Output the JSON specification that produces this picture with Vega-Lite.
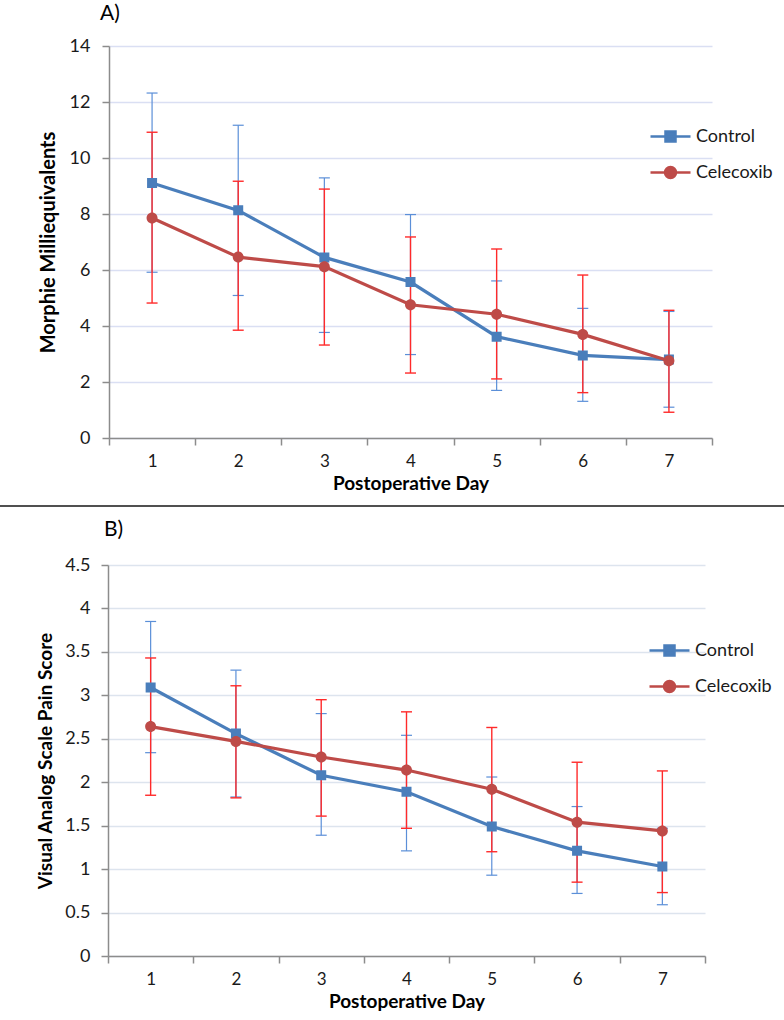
{
  "$schema": "https://vega.github.io/schema/vega-lite/v6.json",
  "padding": {"left": 0, "top": 3, "right": 0, "bottom": 0},
  "autosize": {"type": "pad"},
  "spacing": 12,
  "config": {
    "font": "Lato",
    "view": {"stroke": null},
    "axis": {
      "labelFont": "Lato", "labelFontSize": 18, "labelColor": "#1a1a1a",
      "titleFont": "Lato", "titleFontSize": 19, "titleFontWeight": "bold", "titleColor": "#000000",
      "domainColor": "#8c8c8c", "domainWidth": 1.5, "tickColor": "#8c8c8c", "tickWidth": 1.5, "tickSize": 7
    },
    "concat": {"spacing": 0}
  },
  "datasets": {
    "a": [
      {"day": 1, "group": "Control", "mean": 9.11, "lo": 5.92, "hi": 12.32},
      {"day": 2, "group": "Control", "mean": 8.13, "lo": 5.09, "hi": 11.17},
      {"day": 3, "group": "Control", "mean": 6.45, "lo": 3.77, "hi": 9.29},
      {"day": 4, "group": "Control", "mean": 5.57, "lo": 2.98, "hi": 7.98},
      {"day": 5, "group": "Control", "mean": 3.62, "lo": 1.70, "hi": 5.61},
      {"day": 6, "group": "Control", "mean": 2.95, "lo": 1.31, "hi": 4.63},
      {"day": 7, "group": "Control", "mean": 2.80, "lo": 1.10, "hi": 4.52},
      {"day": 1, "group": "Celecoxib", "mean": 7.86, "lo": 4.82, "hi": 10.92},
      {"day": 2, "group": "Celecoxib", "mean": 6.46, "lo": 3.85, "hi": 9.17},
      {"day": 3, "group": "Celecoxib", "mean": 6.12, "lo": 3.32, "hi": 8.89},
      {"day": 4, "group": "Celecoxib", "mean": 4.76, "lo": 2.32, "hi": 7.18},
      {"day": 5, "group": "Celecoxib", "mean": 4.42, "lo": 2.11, "hi": 6.75},
      {"day": 6, "group": "Celecoxib", "mean": 3.70, "lo": 1.62, "hi": 5.82},
      {"day": 7, "group": "Celecoxib", "mean": 2.76, "lo": 0.92, "hi": 4.56}
    ],
    "b": [
      {"day": 1, "group": "Control", "mean": 3.09, "lo": 2.34, "hi": 3.85},
      {"day": 2, "group": "Control", "mean": 2.56, "lo": 1.83, "hi": 3.29},
      {"day": 3, "group": "Control", "mean": 2.08, "lo": 1.39, "hi": 2.79},
      {"day": 4, "group": "Control", "mean": 1.89, "lo": 1.21, "hi": 2.54},
      {"day": 5, "group": "Control", "mean": 1.49, "lo": 0.93, "hi": 2.06},
      {"day": 6, "group": "Control", "mean": 1.21, "lo": 0.72, "hi": 1.72},
      {"day": 7, "group": "Control", "mean": 1.03, "lo": 0.59, "hi": 1.47},
      {"day": 1, "group": "Celecoxib", "mean": 2.64, "lo": 1.85, "hi": 3.43},
      {"day": 2, "group": "Celecoxib", "mean": 2.47, "lo": 1.82, "hi": 3.11},
      {"day": 3, "group": "Celecoxib", "mean": 2.29, "lo": 1.61, "hi": 2.95},
      {"day": 4, "group": "Celecoxib", "mean": 2.14, "lo": 1.47, "hi": 2.81},
      {"day": 5, "group": "Celecoxib", "mean": 1.92, "lo": 1.20, "hi": 2.63},
      {"day": 6, "group": "Celecoxib", "mean": 1.54, "lo": 0.85, "hi": 2.23},
      {"day": 7, "group": "Celecoxib", "mean": 1.44, "lo": 0.73, "hi": 2.13}
    ]
  },
  "resolve": {"scale": {"color": "independent", "shape": "independent", "stroke": "independent"}, "legend": {"color": "independent", "shape": "independent", "stroke": "independent"}},
  "vconcat": [
    {
      "resolve": {"scale": {"color": "independent", "shape": "independent", "stroke": "independent"}, "legend": {"color": "independent", "shape": "independent", "stroke": "independent"}},
      "hconcat": [
        {"width": 38, "height": 1, "data": {"values": []}, "mark": "rule", "encoding": {}},
        {
          "width": 603, "height": 392,
          "title": {"text": "A)", "anchor": "start", "frame": "group", "fontSize": 21, "fontWeight": "normal", "font": "Lato", "color": "#000000", "dx": -9, "offset": 13},
          "data": {"name": "a"},
          "encoding": {
            "x": {"field": "day", "type": "quantitative", "title": "Postoperative Day",
              "scale": {"domain": [0.5, 7.5], "nice": false, "zero": false},
              "axis": {"values": [0.5, 1, 1.5, 2, 2.5, 3, 3.5, 4, 4.5, 5, 5.5, 6, 6.5, 7, 7.5], "grid": false,
                "labelExpr": "datum.value % 1 === 0 ? format(datum.value, 'd') : ''",
                "tickOpacity": {"condition": {"test": "datum.value % 1 === 0", "value": 0}, "value": 1},
                "labelFontSize": 17, "labelPadding": 8, "titlePadding": 5, "labelFlush": false}}
          },
          "layer": [
            {"transform": [{"filter": "datum.group === 'Control'"}], "mark": {"type": "rule", "color": "#5b8fd8", "strokeWidth": 1.2},
             "encoding": {"y": {"field": "lo", "type": "quantitative", "title": "Morphie Milliequivalents",
                "scale": {"domain": [0, 14], "nice": false},
                "axis": {"values": [0, 2, 4, 6, 8, 10, 12, 14], "gridColor": "#dadff3", "gridWidth": 1.5, "labelPadding": 12, "titlePadding": 11, "titleFontSize": 20}},
               "y2": {"field": "hi"}}},
            {"transform": [{"filter": "datum.group === 'Control'"}], "mark": {"type": "tick", "orient": "horizontal", "color": "#5b8fd8", "size": 11, "thickness": 1.2, "opacity": 1},
             "encoding": {"y": {"field": "lo", "type": "quantitative"}}},
            {"transform": [{"filter": "datum.group === 'Control'"}], "mark": {"type": "tick", "orient": "horizontal", "color": "#5b8fd8", "size": 11, "thickness": 1.2, "opacity": 1},
             "encoding": {"y": {"field": "hi", "type": "quantitative"}}},
            {"transform": [{"filter": "datum.group === 'Celecoxib'"}], "mark": {"type": "rule", "color": "#ff2a2a", "strokeWidth": 1.4},
             "encoding": {"y": {"field": "lo", "type": "quantitative"}, "y2": {"field": "hi"}}},
            {"transform": [{"filter": "datum.group === 'Celecoxib'"}], "mark": {"type": "tick", "orient": "horizontal", "color": "#ff2a2a", "size": 11, "thickness": 1.4, "opacity": 1},
             "encoding": {"y": {"field": "lo", "type": "quantitative"}}},
            {"transform": [{"filter": "datum.group === 'Celecoxib'"}], "mark": {"type": "tick", "orient": "horizontal", "color": "#ff2a2a", "size": 11, "thickness": 1.4, "opacity": 1},
             "encoding": {"y": {"field": "hi", "type": "quantitative"}}},
            {"mark": {"type": "line", "strokeWidth": 3.2},
             "encoding": {"y": {"field": "mean", "type": "quantitative"},
               "color": {"field": "group", "type": "nominal", "scale": {"domain": ["Control", "Celecoxib"], "range": ["#4a7ebb", "#be4b48"]},
                 "legend": {"title": null, "orient": "none", "legendX": 550, "legendY": 79, "padding": 0, "symbolSize": 400, "labelOffset": 14, "rowPadding": 14,
                   "labelFont": "Lato", "labelFontSize": 18, "labelColor": "#1a1a1a", "symbolOpacity": 1, "symbolStrokeWidth": 2.5,
                   "encode": {"symbols": {"update": {"stroke": {"signal": "datum.value === 'Control' ? '#4a7ebb' : '#be4b48'"}, "strokeWidth": {"value": 2.5}}}}}}}},
            {"mark": {"type": "point", "filled": true, "opacity": 1, "size": 400},
             "encoding": {"y": {"field": "mean", "type": "quantitative"},
               "color": {"field": "group", "type": "nominal", "scale": {"domain": ["Control", "Celecoxib"], "range": ["#4a7ebb", "#be4b48"]},
                 "legend": {"title": null, "orient": "none", "legendX": 550, "legendY": 79, "padding": 0, "symbolSize": 400, "labelOffset": 14, "rowPadding": 14,
                   "labelFont": "Lato", "labelFontSize": 18, "labelColor": "#1a1a1a", "symbolOpacity": 1, "symbolStrokeWidth": 2.5,
                   "encode": {"symbols": {"update": {"stroke": {"signal": "datum.value === 'Control' ? '#4a7ebb' : '#be4b48'"}, "strokeWidth": {"value": 2.5}}}}}},
               "shape": {"field": "group", "type": "nominal", "scale": {"domain": ["Control", "Celecoxib"], "range": ["M-2,0H2M-0.5,-0.5H0.5V0.5H-0.5Z", "M-2,0H2M0.55,0A0.55,0.55,0,1,1,-0.55,0A0.55,0.55,0,1,1,0.55,0Z"]},
                 "legend": {"title": null, "orient": "none", "legendX": 550, "legendY": 79, "padding": 0, "symbolSize": 400, "labelOffset": 14, "rowPadding": 14,
                   "labelFont": "Lato", "labelFontSize": 18, "labelColor": "#1a1a1a", "symbolOpacity": 1, "symbolStrokeWidth": 2.5,
                   "encode": {"symbols": {"update": {"stroke": {"signal": "datum.value === 'Control' ? '#4a7ebb' : '#be4b48'"}, "strokeWidth": {"value": 2.5}}}}}}}}
          ]
        }
      ]
    },
    {"width": 784, "height": 2, "data": {"values": []}, "mark": "rule", "encoding": {}, "view": {"fill": "#505050", "stroke": null}},
    {
      "resolve": {"scale": {"color": "independent", "shape": "independent", "stroke": "independent"}, "legend": {"color": "independent", "shape": "independent", "stroke": "independent"}},
      "hconcat": [
        {"width": 36, "height": 1, "data": {"values": []}, "mark": "rule", "encoding": {}},
        {
          "width": 597, "height": 391,
          "title": {"text": "B)", "anchor": "start", "frame": "group", "fontSize": 21, "fontWeight": "normal", "font": "Lato", "color": "#000000", "dx": -4, "offset": 16},
          "data": {"name": "b"},
          "encoding": {
            "x": {"field": "day", "type": "quantitative", "title": "Postoperative Day",
              "scale": {"domain": [0.5, 7.5], "nice": false, "zero": false},
              "axis": {"values": [0.5, 1, 1.5, 2, 2.5, 3, 3.5, 4, 4.5, 5, 5.5, 6, 6.5, 7, 7.5], "grid": false,
                "labelExpr": "datum.value % 1 === 0 ? format(datum.value, 'd') : ''",
                "tickOpacity": {"condition": {"test": "datum.value % 1 === 0", "value": 0}, "value": 1},
                "labelFontSize": 17, "labelPadding": 8, "titlePadding": 5, "labelFlush": false}}
          },
          "layer": [
            {"transform": [{"filter": "datum.group === 'Control'"}], "mark": {"type": "rule", "color": "#5b8fd8", "strokeWidth": 1.2},
             "encoding": {"y": {"field": "lo", "type": "quantitative", "title": "Visual Analog Scale Pain Score",
                "scale": {"domain": [0, 4.5], "nice": false},
                "axis": {"values": [0, 0.5, 1, 1.5, 2, 2.5, 3, 3.5, 4, 4.5], "format": "~g", "gridColor": "#dde4ee", "gridWidth": 1.5, "labelPadding": 11, "titlePadding": 9}},
               "y2": {"field": "hi"}}},
            {"transform": [{"filter": "datum.group === 'Control'"}], "mark": {"type": "tick", "orient": "horizontal", "color": "#5b8fd8", "size": 11, "thickness": 1.2, "opacity": 1},
             "encoding": {"y": {"field": "lo", "type": "quantitative"}}},
            {"transform": [{"filter": "datum.group === 'Control'"}], "mark": {"type": "tick", "orient": "horizontal", "color": "#5b8fd8", "size": 11, "thickness": 1.2, "opacity": 1},
             "encoding": {"y": {"field": "hi", "type": "quantitative"}}},
            {"transform": [{"filter": "datum.group === 'Celecoxib'"}], "mark": {"type": "rule", "color": "#ff2a2a", "strokeWidth": 1.4},
             "encoding": {"y": {"field": "lo", "type": "quantitative"}, "y2": {"field": "hi"}}},
            {"transform": [{"filter": "datum.group === 'Celecoxib'"}], "mark": {"type": "tick", "orient": "horizontal", "color": "#ff2a2a", "size": 11, "thickness": 1.4, "opacity": 1},
             "encoding": {"y": {"field": "lo", "type": "quantitative"}}},
            {"transform": [{"filter": "datum.group === 'Celecoxib'"}], "mark": {"type": "tick", "orient": "horizontal", "color": "#ff2a2a", "size": 11, "thickness": 1.4, "opacity": 1},
             "encoding": {"y": {"field": "hi", "type": "quantitative"}}},
            {"mark": {"type": "line", "strokeWidth": 3.2},
             "encoding": {"y": {"field": "mean", "type": "quantitative"},
               "color": {"field": "group", "type": "nominal", "scale": {"domain": ["Control", "Celecoxib"], "range": ["#4a7ebb", "#be4b48"]},
                 "legend": {"title": null, "orient": "none", "legendX": 550, "legendY": 74, "padding": 0, "symbolSize": 400, "labelOffset": 14, "rowPadding": 14,
                   "labelFont": "Lato", "labelFontSize": 18, "labelColor": "#1a1a1a", "symbolOpacity": 1, "symbolStrokeWidth": 2.5,
                   "encode": {"symbols": {"update": {"stroke": {"signal": "datum.value === 'Control' ? '#4a7ebb' : '#be4b48'"}, "strokeWidth": {"value": 2.5}}}}}}}},
            {"mark": {"type": "point", "filled": true, "opacity": 1, "size": 400},
             "encoding": {"y": {"field": "mean", "type": "quantitative"},
               "color": {"field": "group", "type": "nominal", "scale": {"domain": ["Control", "Celecoxib"], "range": ["#4a7ebb", "#be4b48"]},
                 "legend": {"title": null, "orient": "none", "legendX": 550, "legendY": 74, "padding": 0, "symbolSize": 400, "labelOffset": 14, "rowPadding": 14,
                   "labelFont": "Lato", "labelFontSize": 18, "labelColor": "#1a1a1a", "symbolOpacity": 1, "symbolStrokeWidth": 2.5,
                   "encode": {"symbols": {"update": {"stroke": {"signal": "datum.value === 'Control' ? '#4a7ebb' : '#be4b48'"}, "strokeWidth": {"value": 2.5}}}}}},
               "shape": {"field": "group", "type": "nominal", "scale": {"domain": ["Control", "Celecoxib"], "range": ["M-2,0H2M-0.5,-0.5H0.5V0.5H-0.5Z", "M-2,0H2M0.55,0A0.55,0.55,0,1,1,-0.55,0A0.55,0.55,0,1,1,0.55,0Z"]},
                 "legend": {"title": null, "orient": "none", "legendX": 550, "legendY": 74, "padding": 0, "symbolSize": 400, "labelOffset": 14, "rowPadding": 14,
                   "labelFont": "Lato", "labelFontSize": 18, "labelColor": "#1a1a1a", "symbolOpacity": 1, "symbolStrokeWidth": 2.5,
                   "encode": {"symbols": {"update": {"stroke": {"signal": "datum.value === 'Control' ? '#4a7ebb' : '#be4b48'"}, "strokeWidth": {"value": 2.5}}}}}}}}
          ]
        }
      ]
    }
  ]
}
